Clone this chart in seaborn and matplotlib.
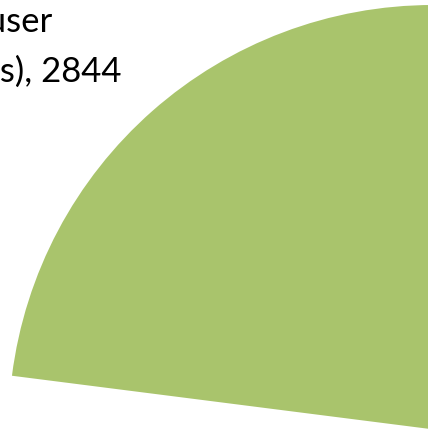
import matplotlib
matplotlib.use("Agg")
import matplotlib.pyplot as plt
import seaborn as sns

# slices in Excel order (clockwise from 12 o'clock); only the last one is in view
segments = ["Casual user (web)", "Regular user (app)", "Power user (all devices)"]
counts = [5830, 3700, 2844]
colours = ["#4F81BD", "#C0504D", "#A9C46C"]
pulled_out = [0, 0, 0.25]
label_top = "Power user"
label_bottom = "(all devices), 2844"


def plot_pie_detail():
    fig = plt.figure(figsize=(4.28, 4.30), dpi=100)
    ax = fig.add_axes([0, 0, 1, 1])
    ax.pie(counts, colors=colours, explode=pulled_out, startangle=90,
           counterclock=False, radius=1, wedgeprops=dict(linewidth=0))
    # zoomed-in view on the upper-left part of the exploded slice
    ax.set_aspect("auto")
    ax.set_xlim(-1.1854, -0.1769)
    ax.set_ylim(0.1861, 1.1994)
    ax.axis("off")

    font = dict(family=["Lato", "DejaVu Sans"], size=25, color="black")
    ax.text(0.122, 0.926, label_top, transform=ax.transAxes,
            ha="right", va="baseline", **font)
    ax.text(0.285, 0.809, label_bottom, transform=ax.transAxes,
            ha="right", va="baseline", **font)

    fig.savefig("out.png", dpi=100)


def main():
    sns.set_theme(style="white")
    plot_pie_detail()


if __name__ == '__main__':
    main()
